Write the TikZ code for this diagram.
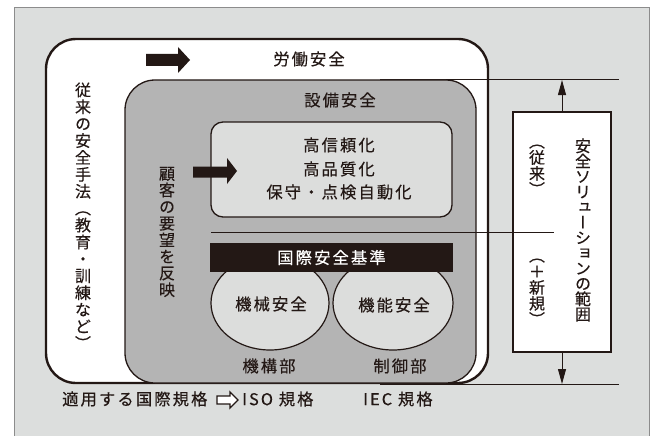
\documentclass[tikz,border=0pt]{standalone}
\usepackage{fontspec}
\setmainfont{Noto Sans CJK JP}
\newfontfamily\jp{Noto Sans CJK JP}[LetterSpace=13,FakeBold=0.35]
\newfontfamily\jpv{Noto Sans CJK JP}[RawFeature=+vert,FakeBold=0.35]
\newcommand\vfontset[1]{\jpv\fontsize{16}{#1}\selectfont\lineskiplimit=-20pt\relax\lineskip=0pt\relax}
\usetikzlibrary{shapes.geometric,arrows.meta}
\definecolor{bg}{HTML}{DCDEDD}
\definecolor{midgray}{HTML}{B4B4B4}
\definecolor{lightbox}{HTML}{DCDDDC}
\definecolor{ink}{HTML}{231815}
\definecolor{framegray}{HTML}{8C8C8C}
\tikzset{
  shp/.style={inner sep=0pt, outer sep=0pt},
  lbl/.style={font=\jp\fontsize{16.3}{18}\selectfont, text=ink, inner sep=0pt},
  vlbl/.style={font=\vfontset{#1}, align=center, text=ink, inner sep=0pt},
  thinline/.style={draw=ink, line width=1pt},
  blockarrow/.style={fill=ink, draw=none},
  vtip/.style={-{Triangle[length=15pt,width=8pt]}, draw=ink, line width=1pt},
}
\begin{document}
\begin{tikzpicture}[x=1pt,y=-1pt]
\useasboundingbox (0,0) rectangle (656,436);
% background panel
\node[shp, draw=framegray, line width=0.8pt, fill=bg, minimum width=635pt, minimum height=437pt] (panel) at (331.5,225.5) {};
% labour safety (white)
\node[shp, draw=ink, line width=2.4pt, fill=white, rounded corners=30pt, minimum width=442pt, minimum height=344pt] (labor) at (267,211) {};
% horizontal guide lines
\coordinate (topL) at (380,80);
\coordinate (topR) at (619,80);
\coordinate (topA) at (562,80);
\coordinate (botL) at (380,384);
\coordinate (botR) at (619,384);
\coordinate (botA) at (562,384);
\draw[thinline] (topL) -- (topR);
\draw[thinline] (botL) -- (botR);
% equipment safety (gray)
\node[shp, draw=ink, line width=1.3pt, fill=midgray, rounded corners=30pt, minimum width=351pt, minimum height=303pt] (equip) at (300.5,231.5) {};
% inner light box
\node[shp, draw=ink, line width=1.3pt, fill=lightbox, rounded corners=12pt, minimum width=241pt, minimum height=95pt] (inner) at (331.5,169.5) {};
% ellipses
\node[shp, ellipse, draw=ink, line width=1.2pt, fill=lightbox, minimum width=118pt, minimum height=94pt] (mech) at (270,303) {};
\node[shp, ellipse, draw=ink, line width=1.2pt, fill=lightbox, minimum width=120pt, minimum height=94pt] (func) at (393,303) {};
% standards bar
\node[shp, fill=ink, minimum width=243pt, minimum height=29pt] (std) at (331.5,257.5) {};
\node[lbl, text=white] (stdtxt) at (std.center) {国際安全基準};
% solution box
\node[shp, draw=ink, line width=2.6pt, fill=white, minimum width=98pt, minimum height=240pt] (sol) at (562,232) {};
% divider line
\coordinate (divL) at (211,232);
\coordinate (divR) at (554,232);
\draw[thinline] (divL) -- (divR);
% arrows from solution box
\draw[vtip] (sol.north) -- (topA);
\draw[vtip] (sol.south) -- (botA);
% block arrows
\path[blockarrow] (146,54) -- (178,54) -- (178,47) -- (190,60) -- (178,73) -- (178,66) -- (146,66) -- cycle;
\path[blockarrow] (193,166.5) -- (227,166.5) -- (227,158) -- (237,171) -- (227,184) -- (227,177.5) -- (193,177.5) -- cycle;
% texts
\node[lbl] (t1) at (309,59) {労働安全};
\node[lbl] (t2) at (340,100) {設備安全};
\node[lbl] (t3) at (339,145) {高信頼化};
\node[lbl] (t4) at (339,169) {高品質化};
\node[lbl] (t5) at (339,192) {保守・点検自動化};
\node[lbl] (t6) at (271,304) {機械安全};
\node[lbl] (t7) at (394,305) {機能安全};
\node[lbl] (t8) at (269,366) {機構部};
\node[lbl] (t9) at (400,366) {制御部};
\node[lbl, anchor=west] (b1) at (62,399) {適用する国際規格};
\draw[draw=ink, line width=1.3pt, fill=white] (217,396) -- (230,396) -- (230,392) -- (238,400) -- (230,408) -- (230,404) -- (217,404) -- cycle;
\node[lbl, anchor=west] (b2) at (242,399) {ISO 規格};
\node[lbl, anchor=west] (b3) at (363,399) {IEC 規格};
% vertical texts
\node[vlbl=16.9] (v1) at (83,216) {従\\来\\の\\安\\全\\手\\法\\（\\教\\育\\・\\訓\\練\\な\\ど\\）};
\node[vlbl=16.6] (v2) at (167,232) {顧\\客\\の\\要\\望\\を\\反\\映};
\node[vlbl=15.3] (v3) at (583,230) {安\\全\\ソ\\リ\\ュ\\ー\\シ\\ョ\\ン\\の\\範\\囲};
\node[vlbl=16] (v4) at (537,170) {（\\従\\来\\）};
\node[vlbl=16] (v5) at (537,292) {（\\＋\\新\\規\\）};
\end{tikzpicture}
\end{document}
